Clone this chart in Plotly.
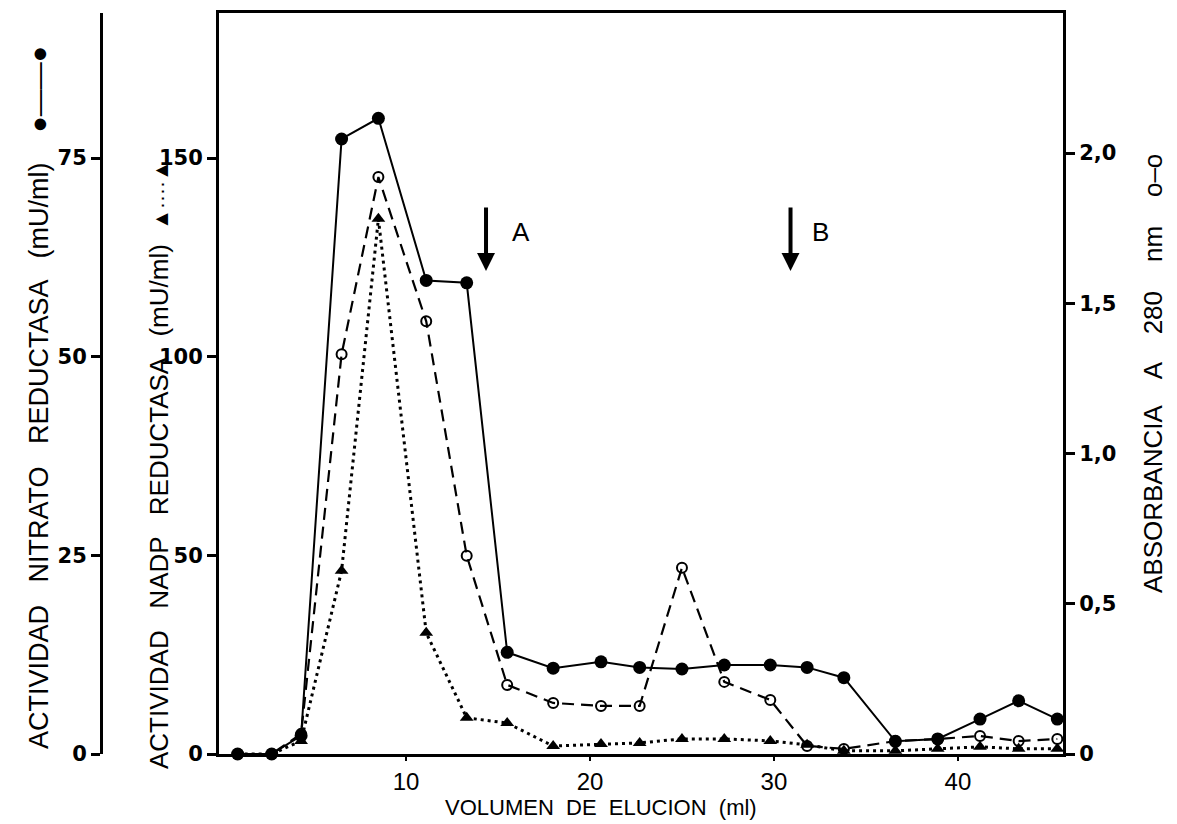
import plotly.graph_objects as go

# ---- data ----
volumen = [0.85, 2.7, 4.3, 6.5, 8.5, 11.1, 13.3, 15.5, 18.0, 20.6, 22.7, 25.0,
           27.3, 29.8, 31.8, 33.8, 36.6, 38.9, 41.2, 43.3, 45.4]
nitrato_reductasa = [0, 0, 2.3, 77.4, 80.0, 59.6, 59.3, 12.8, 10.8, 11.6, 10.9, 10.7,
                     11.2, 11.2, 10.9, 9.6, 1.6, 1.9, 4.4, 6.7, 4.4]
nadp_reductasa = [0, 0, 3.3, 46.1, 134.7, 30.5, 9.1, 7.8, 2.0, 2.5, 2.8, 3.8,
                  3.8, 3.3, 2.3, 0.8, 0.8, 1.3, 1.8, 1.3, 1.3]
absorbancia = [0, 0, 0.067, 1.33, 1.92, 1.44, 0.66, 0.23, 0.17, 0.16, 0.16, 0.62,
               0.24, 0.18, 0.027, 0.017, 0.043, 0.05, 0.06, 0.043, 0.05]

x_ticks = [10, 20, 30, 40]
nadp_ticks = [0, 50, 100, 150]
nitrato_ticks = [0, 25, 50, 75]
abs_ticks = [0, 0.5, 1.0, 1.5, 2.0]
abs_tick_text = ["0", "0,5", "1,0", "1,5", "2,0"]

arrow_labels = ["A", "B"]
arrow_x = [14.35, 30.9]
arrow_head_nadp = 121.6
label_x = [16.25, 32.55]
label_nadp = 131.4

W, H = 1177, 824
px_left, px_right, px_top, px_bottom = 211, 1055, 5, 746
nadp_px_per_unit = 3.973
abs_px_per_unit = 300.5

TICK_BOLD = dict(family="DejaVu Sans", size=21, color="black", weight="bold")

fig = go.Figure()

fig.add_trace(go.Scatter(
    x=volumen, y=absorbancia, yaxis="y3", mode="lines+markers",
    line=dict(color="black", width=2.2, dash="12px,7px"),
    marker=dict(symbol="circle-open", size=10, color="black", line=dict(width=2)),
    cliponaxis=False, showlegend=False, name="Absorbancia 280 nm"))

fig.add_trace(go.Scatter(
    x=volumen, y=nadp_reductasa, yaxis="y", mode="lines+markers",
    line=dict(color="black", width=3, dash="3px,4px"),
    marker=dict(symbol="triangle-up", size=12, color="black"),
    cliponaxis=False, showlegend=False, name="NADP reductasa"))

fig.add_trace(go.Scatter(
    x=volumen, y=nitrato_reductasa, yaxis="y2", mode="lines+markers",
    line=dict(color="black", width=2),
    marker=dict(symbol="circle", size=13, color="black"),
    cliponaxis=False, showlegend=False, name="Nitrato reductasa"))

plot_h = px_bottom - px_top
nadp_max = plot_h / nadp_px_per_unit
abs_max = plot_h / abs_px_per_unit

fig.update_layout(
    width=W, height=H,
    margin=dict(l=0, r=0, t=0, b=0, pad=0),
    paper_bgcolor="white", plot_bgcolor="white",
    xaxis=dict(domain=[px_left / W, px_right / W], range=[-0.163, 45.71],
               tickvals=x_ticks, showgrid=False, zeroline=False, showline=True,
               mirror=True, linecolor="black", linewidth=3, ticks="outside",
               ticklen=4, tickwidth=2, tickcolor="black",
               tickfont=dict(family="Liberation Sans", size=24, color="black"),
               automargin=False),
    yaxis=dict(domain=[1 - px_bottom / H, 1 - px_top / H], range=[0, nadp_max],
               tickvals=nadp_ticks, showgrid=False, zeroline=False, showline=True,
               linecolor="black", linewidth=3, ticks="outside", ticklen=9,
               tickwidth=2.5, tickcolor="black", tickfont=TICK_BOLD,
               automargin=False),
    yaxis2=dict(overlaying="y", anchor="free", position=93 / W, side="left",
                range=[0, nadp_max / 2], tickvals=nitrato_ticks, showgrid=False,
                zeroline=False, showline=True, linecolor="black", linewidth=3,
                ticks="outside", ticklen=9, tickwidth=2.5, tickcolor="black",
                tickfont=TICK_BOLD, automargin=False),
    yaxis3=dict(overlaying="y", anchor="x", side="right", range=[0, abs_max],
                tickvals=abs_ticks, ticktext=abs_tick_text, showgrid=False,
                zeroline=False, showline=True, linecolor="black", linewidth=3,
                ticks="outside", ticklen=9, tickwidth=2.5, tickcolor="black",
                tickfont=TICK_BOLD, automargin=False),
)

annotations = []
for lab, ax_, lx in zip(arrow_labels, arrow_x, label_x):
    annotations.append(dict(x=ax_, y=arrow_head_nadp, xref="x", yref="y",
                            text="", showarrow=True, ax=0, ay=-65,
                            arrowhead=2, arrowsize=0.9, arrowwidth=4,
                            arrowcolor="black"))
    annotations.append(dict(x=lx, y=label_nadp, xref="x", yref="y", text=lab,
                            showarrow=False,
                            font=dict(family="Liberation Sans", size=26, color="black")))

def vtitle(px, py, text, size):
    return dict(x=px / W, y=1 - py / H, xref="paper", yref="paper",
                xanchor="center", yanchor="middle", textangle=-90,
                text=text, showarrow=False,
                font=dict(family="Liberation Sans", size=size, color="black"))

annotations += [
    vtitle(31, 390, "ACTIVIDAD   NITRATO   REDUCTASA   (mU/ml)    ●——●", 27),
    vtitle(151, 457, "ACTIVIDAD   NADP   REDUCTASA   (mU/ml)  "
                     "<span style='font-size:21px'>▲····▲</span>", 26),
    vtitle(1145, 366, "ABSORBANCIA    A    280    nm    o–o", 26),
    dict(x=593 / W, y=1 - 799 / H, xref="paper", yref="paper",
         xanchor="center", yanchor="middle",
         text="VOLUMEN  DE  ELUCION  (ml)", showarrow=False,
         font=dict(family="Liberation Sans", size=22, color="black")),
]
fig.update_layout(annotations=annotations)

fig.write_html("out.html")
